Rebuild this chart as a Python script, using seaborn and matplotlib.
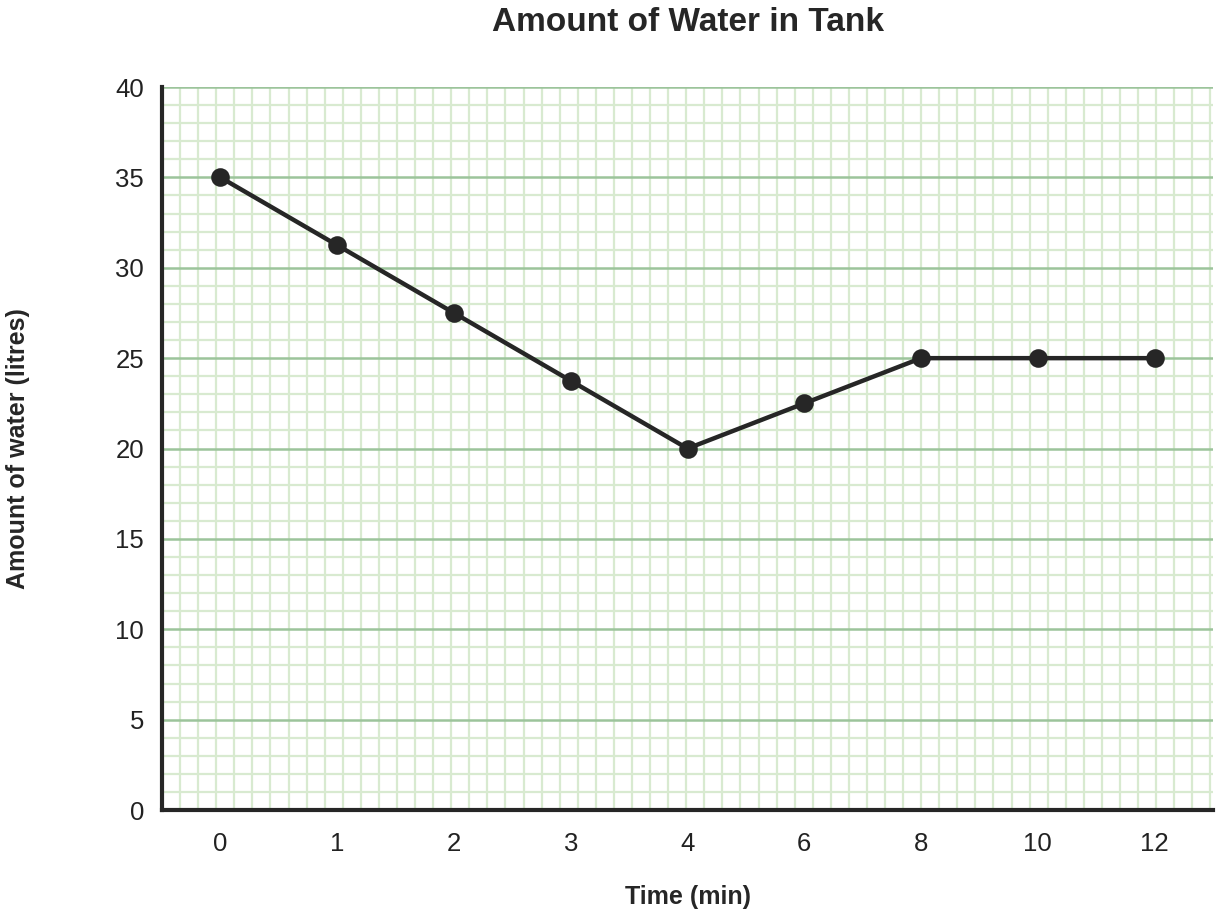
import numpy as np
import matplotlib
matplotlib.use('Agg')
import matplotlib.pyplot as plt
import seaborn as sns

# Data
times = ['0', '1', '2', '3', '4', '6', '8', '10', '12']
water = [35, 31.25, 27.5, 23.75, 20, 22.5, 25, 25, 25]

sns.set_style('white')
plt.rcParams['font.family'] = ['Liberation Sans', 'DejaVu Sans']

fig = plt.figure(figsize=(12.2, 9.18), dpi=100)
ax = fig.add_axes([0.1328, 0.1176, 0.8615, 0.7876])

ax.set_xlim(-0.5, len(times) - 0.5)
ax.set_ylim(0, 40)

# graph-paper grid: square cells of 1 litre
minor_c = '#d8ead0'
major_c = '#9cc49b'
for v in range(1, 41):
    if v % 5:
        ax.axhline(v, color=minor_c, lw=1.6, zorder=0)
step = (0.7876 * 9.18 / 40) / (0.8615 * 12.2 / len(times))
for xv in np.arange(-0.5 + step, len(times) - 0.5, step):
    ax.axvline(xv, color=minor_c, lw=1.6, zorder=0)
for v in range(5, 41, 5):
    ax.axhline(v, color=major_c, lw=1.8, zorder=1)

sns.pointplot(x=times, y=water, color='#262626', markersize=11,
              linewidth=3.2, ax=ax, zorder=3)
ax.set_xlim(-0.5, len(times) - 0.5)
ax.set_ylim(0, 40)

ax.set_yticks(range(0, 41, 5))
ax.tick_params(axis='both', length=0, labelsize=18.5, colors='#222222')
ax.tick_params(axis='x', pad=16)
ax.tick_params(axis='y', pad=13)

for s in ['top', 'right']:
    ax.spines[s].set_visible(False)
for s in ['left', 'bottom']:
    ax.spines[s].set_color('#262626')
    ax.spines[s].set_linewidth(3)
    ax.spines[s].set_zorder(4)

ax.set_xlabel('Time (min)', fontsize=18, fontweight='bold')
ax.xaxis.set_label_coords(0.5, -0.104)
ax.set_ylabel('Amount of water (litres)', fontsize=18, fontweight='bold')
ax.yaxis.set_label_coords(-0.1256, 0.5)
ax.set_title('Amount of Water in Tank', fontsize=24, fontweight='bold', pad=40)

fig.savefig('out.png', dpi=100)
